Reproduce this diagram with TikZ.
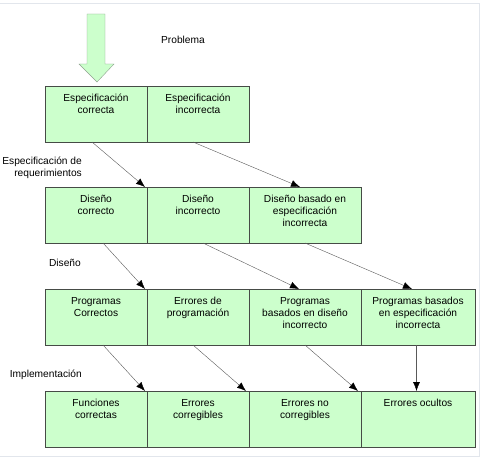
\documentclass[tikz,border=0pt]{standalone}
\usepackage{fontspec}
\setmainfont{Liberation Sans}
\usetikzlibrary{positioning,arrows.meta}
\definecolor{boxgreen}{RGB}{204,255,204}
\definecolor{boxline}{RGB}{70,75,70}
\definecolor{arrowline}{RGB}{140,160,140}
\definecolor{framegray}{RGB}{226,230,236}

\begin{document}
\begin{tikzpicture}[x=1pt,y=-1pt,
  box/.style={draw=boxline,fill=boxgreen,minimum height=56pt,inner sep=0pt,outer sep=0pt},
  txt/.style={anchor=north,yshift=-8pt,inner sep=0pt,align=center,font=\fontsize{10.2}{12}\selectfont},
  side/.style={inner sep=0pt,align=right,font=\fontsize{10.2}{12.5}\selectfont},
  conn/.style={draw=black!65,-{Latex[length=9pt,width=7pt,black]}}]
\useasboundingbox (0,0) rectangle (487,460);
\draw [framegray] (0,3) -- (479,3) -- (479,456) -- (0,456);
% big arrow
\draw [arrowline,fill=boxgreen] (87,14) -- (105,14) -- (105,64) -- (114,64) -- (97,82) -- (79,64) -- (87,64) -- cycle;
\node (prob) [inner sep=0pt,font=\fontsize{10.2}{12}\selectfont] at (183,40) {Problema};
% row 1
\node (b11) [box,minimum width=102pt,anchor=north west,label={[txt]north:Especificación\\correcta}] at (45,86) {};
\node (b12) [box,minimum width=102pt,right=0pt of b11,label={[txt]north:Especificación\\incorrecta}] {};
% row 2
\node (b21) [box,minimum width=102pt,below=45pt of b11,label={[txt]north:Diseño\\correcto}] {};
\node (b22) [box,minimum width=102pt,right=0pt of b21,label={[txt]north:Diseño\\incorrecto}] {};
\node (b23) [box,minimum width=112pt,right=0pt of b22,label={[txt]north:Diseño basado en\\especificación\\incorrecta}] {};
% row 3
\node (b31) [box,minimum width=102pt,below=46pt of b21,label={[txt]north:Programas\\Correctos}] {};
\node (b32) [box,minimum width=102pt,right=0pt of b31,label={[txt]north:Errores de\\programación}] {};
\node (b33) [box,minimum width=112pt,right=0pt of b32,label={[txt]north:Programas\\basados en diseño\\incorrecto}] {};
\node (b34) [box,minimum width=114pt,right=0pt of b33,label={[txt]north:Programas basados\\en especificación\\incorrecta}] {};
% row 4
\node (b41) [box,minimum width=102pt,below=46pt of b31,label={[txt]north:Funciones\\correctas}] {};
\node (b42) [box,minimum width=102pt,right=0pt of b41,label={[txt]north:Errores\\corregibles}] {};
\node (b43) [box,minimum width=112pt,right=0pt of b42,label={[txt]north:Errores no\\corregibles}] {};
\node (b44) [box,minimum width=114pt,right=0pt of b43,label={[txt]north:Errores ocultos}] {};
% stage labels
\node (req) [side,anchor=east] at (82,168) {Especificación de\\requerimientos};
\node (dis) [side,anchor=east] at (81,263) {Diseño};
\node (imp) [side,anchor=east] at (82,375) {Implementación};
% connectors
\draw [conn] ([xshift=-4pt]b11.south) -- ([xshift=-2pt]b21.north east);
\draw [conn] ([xshift=-5pt]b12.south) -- ([xshift=-5pt]b23.north);
\draw [conn] ([xshift=7pt]b21.south) -- ([xshift=-2pt]b31.north east);
\draw [conn] ([xshift=5pt]b22.south) -- ([xshift=-6pt]b33.north);
\draw [conn] (b23.south) -- ([xshift=-6pt]b34.north);
\draw [conn] ([xshift=7pt]b31.south) -- ([xshift=-2pt]b41.north east);
\draw [conn] ([xshift=-5pt]b32.south) -- ([xshift=-3pt]b42.north east);
\draw [conn] (b33.south) -- ([xshift=-3pt]b43.north east);
\draw [conn] ([xshift=-1.5pt]b34.south) -- ([xshift=-1.5pt]b44.north);
\end{tikzpicture}
\end{document}
